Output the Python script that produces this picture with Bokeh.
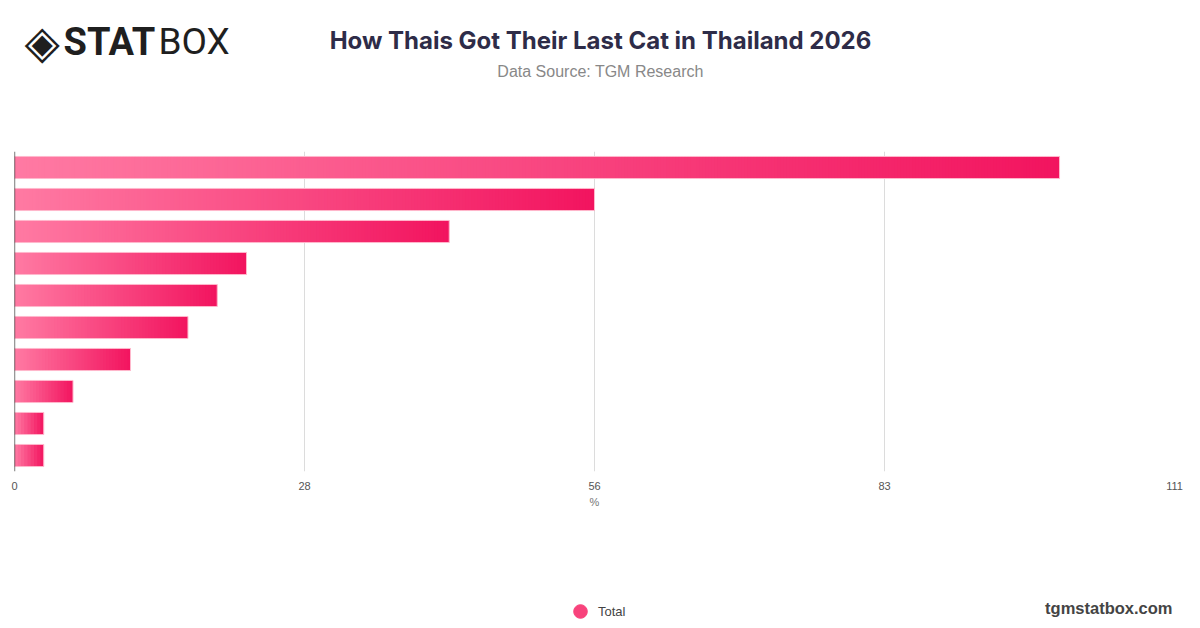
from bokeh.plotting import figure
from bokeh.layouts import column
from bokeh.models import (ColumnDataSource, FactorRange, Range1d, FixedTicker,
                          Span, Label, Legend, LegendItem)
from bokeh.embed import file_html
from bokeh.resources import INLINE

# answers are not labelled on the reference chart, only the bars are shown
categories = ["Answer 1", "Answer 2", "Answer 3", "Answer 4", "Answer 5",
              "Answer 6", "Answer 7", "Answer 8", "Answer 9", "Answer 10"]
values = [100.0, 55.5, 41.6, 22.2, 19.4, 16.6, 11.1, 5.6, 2.8, 2.8]

tick_values = [0, 27.75, 55.5, 83.25, 111]
tick_labels = ["0", "28", "56", "83", "111"]
x_max = 111

title_text = "How Thais Got Their Last Cat in Thailand 2026"
subtitle_text = "Data Source: TGM Research"
series_name = "Total"
site_text = "tgmstatbox.com"

W = 1200
LEFT, RIGHT = 14, 26          # borders of the plot area
HEAD_H, MAIN_H, FOOT_H = 100, 420, 108

# gradient ends (light pink on the left, deep pink on the right of each bar)
c_left = (255, 122, 163)
c_right = (242, 20, 95)


def mix(t):
    r, g, b = (round(a + (b_ - a) * t) for a, b_ in zip(c_left, c_right))
    return "#%02x%02x%02x" % (r, g, b)


# cut every bar into thin slices to fake the horizontal gradient
px_per_unit = (W - LEFT - RIGHT) / x_max
ys, lefts, rights, cols = [], [], [], []
for cat, v in zip(categories, values):
    n = max(6, int(v * px_per_unit / 3))
    for i in range(n):
        ys.append(cat)
        lefts.append(v * i / n)
        # a small overlap hides the seams between slices
        rights.append(min(v, v * (i + 1) / n + 0.15))
        cols.append(mix((i + 0.5) / n))
slices = ColumnDataSource(dict(y=ys, left=lefts, right=rights, color=cols))


def blank(h, y0):
    # the column lines up plot areas, so map page pixels onto that area
    f = figure(width=W, height=h, output_backend="svg", toolbar_location=None,
               tools="", x_range=Range1d(LEFT, W - RIGHT),
               y_range=Range1d(y0 + h, y0),
               x_axis_type=None, y_axis_type=None, min_border=0,
               min_border_left=LEFT, min_border_right=RIGHT,
               outline_line_color=None)
    f.grid.visible = False
    return f


# ---- header: logo, title, source
head = blank(HEAD_H, 0)
head.add_layout(Label(x=600, y=40, text=title_text, text_align="center",
                      text_baseline="middle", text_font="Inter",
                      text_font_style="bold", text_font_size="24px",
                      text_color="#2e2c48"))
head.add_layout(Label(x=600, y=71, text=subtitle_text, text_align="center",
                      text_baseline="middle", text_font="Liberation Sans",
                      text_font_size="16px", text_color="#888888"))
head.add_layout(Label(x=24, y=41, text="\u25c8", text_align="left",
                      text_baseline="middle", text_font="DejaVu Sans",
                      text_font_size="46px", text_color="#1f1f1f"))
head.add_layout(Label(x=63, y=41, text="STAT", text_align="left",
                      text_baseline="middle", text_font="Roboto",
                      text_font_style="bold", text_font_size="38px",
                      text_color="#1f1f1f"))
head.add_layout(Label(x=158, y=41, text="BOX", text_align="left",
                      text_baseline="middle", text_font="Roboto",
                      text_font_size="37px", text_color="#1f1f1f"))

# ---- main bar chart
p = figure(width=W, height=MAIN_H, output_backend="svg", toolbar_location=None,
           tools="", x_range=Range1d(0, x_max),
           y_range=FactorRange(factors=categories[::-1], range_padding=0),
           min_border_left=LEFT, min_border_right=RIGHT,
           min_border_top=51, min_border_bottom=49)
p.outline_line_color = None

p.hbar(y="y", left="left", right="right", height=0.69, source=slices,
       fill_color="color", line_color=None)
p.hbar(y=categories, right=values, height=0.69, fill_color=None,
       line_color="#ffb8cc", line_width=1)

# y axis is just a dark line at zero
p.yaxis.visible = False
p.add_layout(Span(location=0, dimension="height", line_color="#333333",
                  line_width=1.3))

p.ygrid.grid_line_color = None
p.xgrid.grid_line_color = "#dcdcdc"
p.xgrid.grid_line_width = 1

p.xaxis.ticker = FixedTicker(ticks=tick_values)
p.xaxis.major_label_overrides = {t: l for t, l in zip(tick_values, tick_labels)}
p.xaxis.axis_line_color = None
p.xaxis.major_tick_line_color = None
p.xaxis.minor_tick_line_color = None
p.xaxis.major_label_standoff = 4
p.xaxis.major_label_text_font = "Liberation Sans"
p.xaxis.major_label_text_font_size = "11px"
p.xaxis.major_label_text_color = "#555555"
p.xaxis.axis_label = "%"
p.xaxis.axis_label_standoff = 3
p.xaxis.axis_label_text_font = "Liberation Sans"
p.xaxis.axis_label_text_font_size = "11px"
p.xaxis.axis_label_text_font_style = "normal"
p.xaxis.axis_label_text_color = "#777777"

# ---- footer: legend and site name
foot = blank(FOOT_H, HEAD_H + MAIN_H)

# the legend marker needs one point; it sits outside the visible area
dot = foot.scatter(x=[-100], y=[-100], marker="circle", size=14,
                   fill_color="#f8437c", line_color="#f8437c")
legend = Legend(items=[LegendItem(label=series_name, renderers=[dot])],
                location=(563 - LEFT, 0), border_line_color=None,
                background_fill_alpha=0, padding=0, margin=0,
                label_text_font="Liberation Sans", label_text_font_size="13px",
                label_text_color="#444444", glyph_width=34, glyph_height=34,
                label_standoff=1)
foot.add_layout(legend)

foot.add_layout(Label(x=1172, y=607, text=site_text, text_align="right",
                      text_baseline="middle", text_font="Liberation Sans",
                      text_font_style="bold", text_font_size="16.5px",
                      text_color="#444444"))

page = column(head, p, foot, spacing=0)
open("out.html", "w").write(file_html(page, INLINE))
